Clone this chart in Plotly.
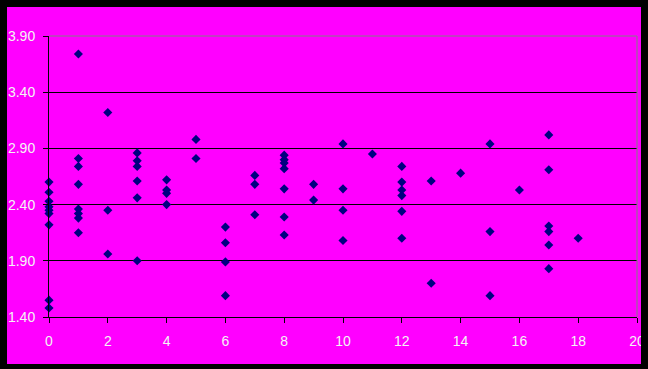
import plotly.graph_objects as go

# Data
x_vals = ([0] * 9 + [1] * 8 + [2] * 3 + [3] * 6 + [4] * 4 + [5] * 2 + [6] * 4 + [7] * 3 +
          [8] * 7 + [9] * 2 + [10] * 4 + [11] + [12] * 6 + [13] * 2 + [14] + [15] * 3 +
          [16] + [17] * 6 + [18])
y_vals = [2.60, 2.51, 2.43, 2.38, 2.35, 2.32, 2.22, 1.55, 1.48,
          3.74, 2.81, 2.74, 2.58, 2.36, 2.32, 2.28, 2.15,
          3.22, 2.35, 1.96,
          2.86, 2.79, 2.74, 2.61, 2.46, 1.90,
          2.62, 2.53, 2.50, 2.40,
          2.98, 2.81,
          2.20, 2.06, 1.89, 1.59,
          2.66, 2.58, 2.31,
          2.84, 2.80, 2.77, 2.72, 2.54, 2.29, 2.13,
          2.58, 2.44,
          2.94, 2.54, 2.35, 2.08,
          2.85,
          2.74, 2.60, 2.53, 2.48, 2.34, 2.10,
          2.61, 1.70,
          2.68,
          2.94, 2.16, 1.59,
          2.53,
          3.02, 2.71, 2.21, 2.16, 2.04, 1.83,
          2.10]
y_ticks = [1.40, 1.90, 2.40, 2.90, 3.40, 3.90]
x_ticks = [0, 2, 4, 6, 8, 10, 12, 14, 16, 18, 20]

W, H = 648, 369
L, R, T, B = 49, 11, 36, 52
PW, PH = W - L - R, H - T - B


def px(x):
    return (x - L) / PW


def py(y):
    return (H - B - y) / PH


fig = go.Figure()
fig.add_trace(go.Scatter(
    x=x_vals, y=y_vals, mode="markers",
    marker=dict(symbol="diamond", size=7, color="#000080", line=dict(width=0)),
    cliponaxis=False, showlegend=False, hoverinfo="skip",
))

font = dict(family="Liberation Sans, Arial, sans-serif", size=14, color="#F4F4F4")

fig.update_layout(
    width=W, height=H,
    margin=dict(l=L, r=R, t=T, b=B, pad=0, autoexpand=False),
    paper_bgcolor="#FF00FF",
    plot_bgcolor="#FF00FF",
    xaxis=dict(range=[0, 20], tickvals=x_ticks, ticktext=[str(v) for v in x_ticks],
               showgrid=False, zeroline=False, showline=True, linecolor="#000000",
               linewidth=1, ticks="outside", ticklen=5, tickcolor="#000000",
               tickfont=font, ticklabelstandoff=6, automargin=False),
    yaxis=dict(range=[1.4, 3.9], tickvals=y_ticks, ticktext=["%.2f" % v for v in y_ticks],
               showgrid=True, gridcolor="#000000", gridwidth=1, zeroline=False,
               showline=True, linecolor="#000000", linewidth=1, ticks="outside",
               ticklen=5, tickcolor="#000000", tickfont=font, ticklabelstandoff=5,
               automargin=False),
    shapes=[
        # gray plot-area border (top and right)
        dict(type="line", xref="paper", yref="paper", x0=0, x1=1, y0=1, y1=1,
             line=dict(color="#808080", width=1), layer="above"),
        dict(type="line", xref="paper", yref="paper", x0=1, x1=1, y0=0, y1=1,
             line=dict(color="#808080", width=1), layer="above"),
        # black outer frame
        dict(type="rect", xref="paper", yref="paper", x0=px(-2), x1=px(7), y0=py(H + 2), y1=py(-2),
             fillcolor="#000000", line=dict(width=0), layer="above"),
        dict(type="rect", xref="paper", yref="paper", x0=px(641), x1=px(W + 2), y0=py(H + 2), y1=py(-2),
             fillcolor="#000000", line=dict(width=0), layer="above"),
        dict(type="rect", xref="paper", yref="paper", x0=px(-2), x1=px(W + 2), y0=py(7), y1=py(-2),
             fillcolor="#000000", line=dict(width=0), layer="above"),
        dict(type="rect", xref="paper", yref="paper", x0=px(-2), x1=px(W + 2), y0=py(H + 2), y1=py(364),
             fillcolor="#000000", line=dict(width=0), layer="above"),
    ],
)

fig.write_html("out.html", config={"displayModeBar": False},
               post_script="document.body.style.margin='0px';document.body.style.overflow='hidden';")
